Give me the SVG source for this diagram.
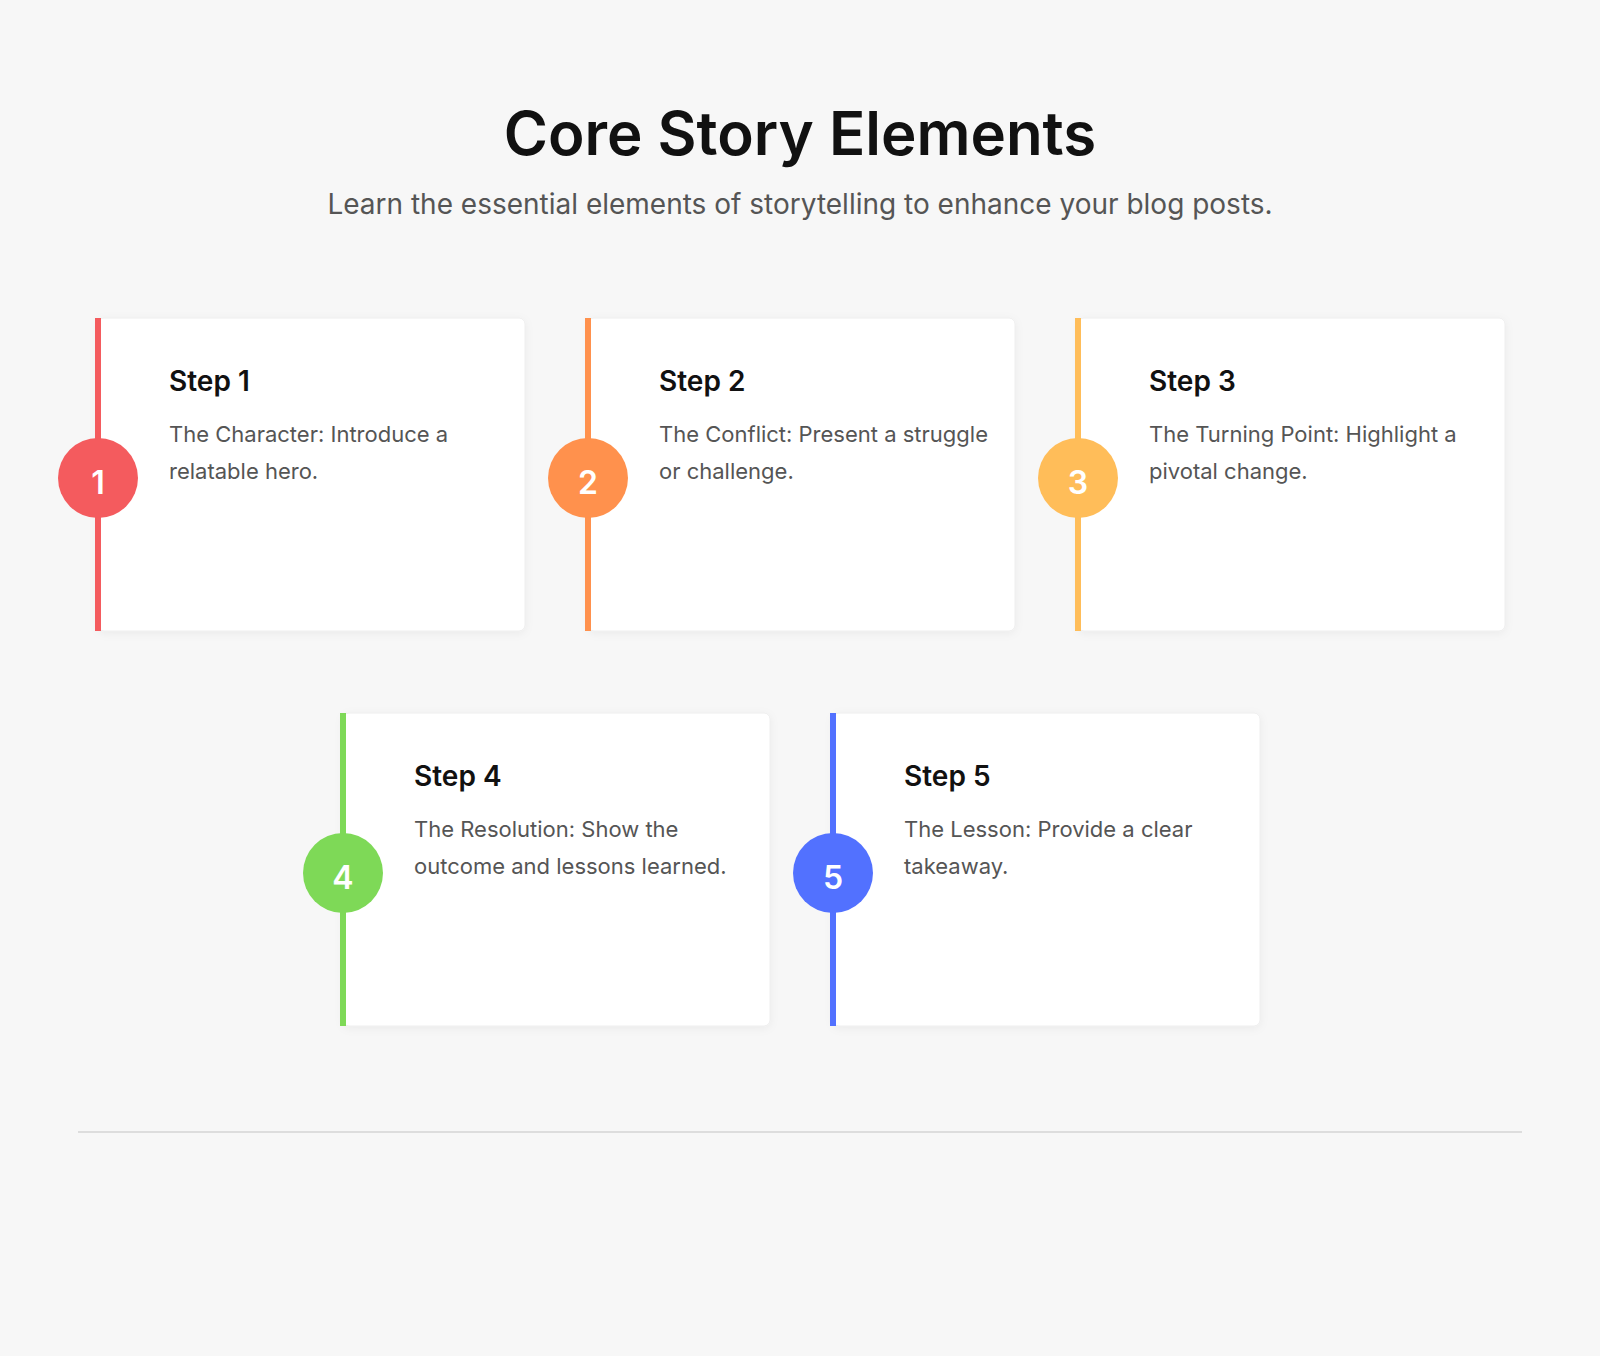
<svg xmlns="http://www.w3.org/2000/svg" width="1600" height="1356" viewBox="0 0 1600 1356">
<defs>
<style>
.card{fill:#fff;stroke:#eeeeee;stroke-width:1}
.t{font-family:"Inter","Liberation Sans",sans-serif;font-size:28px;font-weight:600;fill:#111}
.d{font-family:"Inter","Liberation Sans",sans-serif;font-size:22px;fill:#555}
.n{font-family:"Inter","Liberation Sans",sans-serif;font-size:32px;font-weight:600;fill:#fff;text-anchor:middle}
</style>
<filter id="sh" x="-10%" y="-10%" width="120%" height="120%"><feDropShadow dx="0" dy="2" stdDeviation="4" flood-color="#000" flood-opacity="0.05"/></filter>
</defs>
<rect width="1600" height="1356" fill="#f7f7f7"/>
<text x="800" y="155" text-anchor="middle" font-family="Inter,'Liberation Sans',sans-serif" font-size="60" font-weight="600" fill="#111">Core Story Elements</text>
<text x="800" y="214" text-anchor="middle" font-family="Inter,'Liberation Sans',sans-serif" font-size="28" fill="#555">Learn the essential elements of storytelling to enhance your blog posts.</text>
<g id="step1" transform="translate(98,318)">
<rect class="card" x="0" y="0" width="427" height="313" rx="6" filter="url(#sh)"/>
<rect x="-3" y="0" width="6" height="313" fill="#F45B5E"/>
<circle cx="0" cy="160" r="40" fill="#F45B5E"/>
<text class="n" x="0" y="176">1</text>
<text class="t" x="71" y="73">Step 1</text>
<text class="d" x="71" y="124">The Character: Introduce a</text>
<text class="d" x="71" y="161">relatable hero.</text>
</g>
<g id="step2" transform="translate(588,318)">
<rect class="card" x="0" y="0" width="427" height="313" rx="6" filter="url(#sh)"/>
<rect x="-3" y="0" width="6" height="313" fill="#FF914D"/>
<circle cx="0" cy="160" r="40" fill="#FF914D"/>
<text class="n" x="0" y="176">2</text>
<text class="t" x="71" y="73">Step 2</text>
<text class="d" x="71" y="124">The Conflict: Present a struggle</text>
<text class="d" x="71" y="161">or challenge.</text>
</g>
<g id="step3" transform="translate(1078,318)">
<rect class="card" x="0" y="0" width="427" height="313" rx="6" filter="url(#sh)"/>
<rect x="-3" y="0" width="6" height="313" fill="#FFBD59"/>
<circle cx="0" cy="160" r="40" fill="#FFBD59"/>
<text class="n" x="0" y="176">3</text>
<text class="t" x="71" y="73">Step 3</text>
<text class="d" x="71" y="124">The Turning Point: Highlight a</text>
<text class="d" x="71" y="161">pivotal change.</text>
</g>
<g id="step4" transform="translate(343,713)">
<rect class="card" x="0" y="0" width="427" height="313" rx="6" filter="url(#sh)"/>
<rect x="-3" y="0" width="6" height="313" fill="#7ED957"/>
<circle cx="0" cy="160" r="40" fill="#7ED957"/>
<text class="n" x="0" y="176">4</text>
<text class="t" x="71" y="73">Step 4</text>
<text class="d" x="71" y="124">The Resolution: Show the</text>
<text class="d" x="71" y="161">outcome and lessons learned.</text>
</g>
<g id="step5" transform="translate(833,713)">
<rect class="card" x="0" y="0" width="427" height="313" rx="6" filter="url(#sh)"/>
<rect x="-3" y="0" width="6" height="313" fill="#5271FF"/>
<circle cx="0" cy="160" r="40" fill="#5271FF"/>
<text class="n" x="0" y="176">5</text>
<text class="t" x="71" y="73">Step 5</text>
<text class="d" x="71" y="124">The Lesson: Provide a clear</text>
<text class="d" x="71" y="161">takeaway.</text>
</g>
<g id="connectors"></g>
<line x1="78" y1="1132" x2="1522" y2="1132" stroke="#dddddd" stroke-width="2"/>
</svg>
